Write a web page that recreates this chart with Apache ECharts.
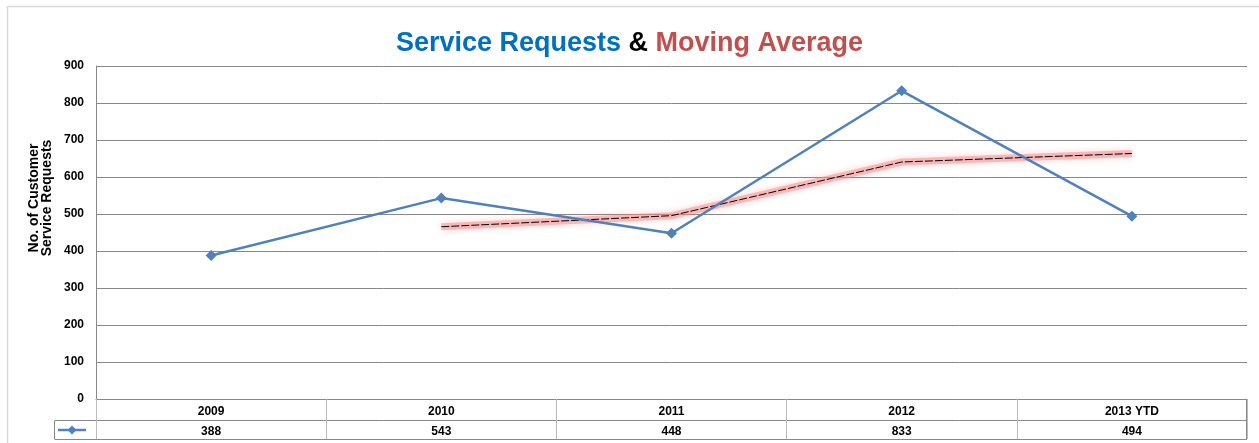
<!DOCTYPE html>
<html><head><meta charset="utf-8">
<script src="https://cdn.jsdelivr.net/npm/echarts@6/dist/echarts.min.js"></script>
<style>html,body{margin:0;padding:0;background:#fff}#c{width:1259px;height:443px}</style>
</head><body><div id="c"></div>
<script>
const categories = ['2009', '2010', '2011', '2012', '2013 YTD'];
const serviceRequests = [388, 543, 448, 833, 494];
const movingAverage = [null, 465.5, 495.5, 640.5, 663.5];
const yTicks = { min: 0, max: 900, interval: 100 };
const yAxisTitle = 'No. of Customer\nService Requests';

const G = { left: 96, right: 12, top: 66, bottom: 44 };
const W = 1259, H = 443;
const chart = echarts.init(document.getElementById('c'));
const font = 'Liberation Sans, Arial, sans-serif';

chart.setOption({
  animation: false,
  title: {
    text: '{a|Service Requests }{b|&}{c| Moving Average}',
    left: 'center', top: 25,
    textStyle: {
      rich: {
        a: { color: '#0070C0', fontSize: 27, fontWeight: 'bold', fontFamily: font },
        b: { color: '#000', fontSize: 27, fontWeight: 'bold', fontFamily: font },
        c: { color: '#C0504D', fontSize: 27, fontWeight: 'bold', fontFamily: font }
      }
    }
  },
  grid: { left: G.left, right: G.right, top: G.top, bottom: G.bottom },
  xAxis: {
    type: 'category', data: categories, boundaryGap: true,
    axisLine: { lineStyle: { color: '#888', width: 1 } },
    axisTick: { show: true, length: 40, lineStyle: { color: '#bbb' } },
    axisLabel: {
      margin: 3, interval: 0,
      formatter: (v, i) => '{h|' + v + '}\n{v|' + serviceRequests[i] + '}',
      rich: {
        h: { fontSize: 12, fontWeight: 'bold', color: '#000', fontFamily: font, lineHeight: 20, height: 20 },
        v: { fontSize: 12, fontWeight: 'bold', color: '#000', fontFamily: font, lineHeight: 20, height: 20 }
      }
    }
  },
  yAxis: {
    type: 'value', min: yTicks.min, max: yTicks.max, interval: yTicks.interval,
    axisLine: { show: true, lineStyle: { color: '#888' } },
    axisTick: { show: false },
    axisLabel: { fontSize: 12, fontWeight: 'bold', color: '#000', fontFamily: font, margin: 12 },
    splitLine: { lineStyle: { color: '#888', width: 1 } }
  },
  series: [
    {
      name: 'Moving Average glow', type: 'line', data: movingAverage, symbol: 'none', z: 2,
      lineStyle: { color: 'rgba(245,140,140,0.5)', width: 7, shadowColor: 'rgba(255,90,90,0.55)', shadowBlur: 6 },
      silent: true
    },
    {
      name: 'Moving Average', type: 'line', data: movingAverage, symbol: 'none', z: 3,
      lineStyle: { color: '#000', width: 1, type: [8, 2] }
    },
    {
      name: 'Service Requests', type: 'line', data: serviceRequests, z: 4,
      symbol: 'diamond', symbolSize: 11,
      lineStyle: { color: '#4F81BD', width: 2.5 },
      itemStyle: { color: '#4F81BD' }
    }
  ],
  graphic: [
    { type: 'rect', silent: true, shape: { x: 7.5, y: 6.5, width: 1400, height: 600 }, style: { fill: 'none', stroke: '#d9d9d9', lineWidth: 1.5 } },
    { type: 'text', x: 41, y: 198, rotation: Math.PI / 2,
      style: { text: yAxisTitle, fontSize: 14, fontWeight: 'bold', fontFamily: font, fill: '#000', align: 'center', verticalAlign: 'middle', lineHeight: 13 } },
    { type: 'line', shape: { x1: G.left, y1: 420.5, x2: W - G.right, y2: 420.5 }, style: { stroke: '#888', lineWidth: 1 } },
    { type: 'line', shape: { x1: 55, y1: 439.5, x2: W - G.right, y2: 439.5 }, style: { stroke: '#888', lineWidth: 1 } },
    { type: 'line', shape: { x1: 55, y1: 420.5, x2: G.left, y2: 420.5 }, style: { stroke: '#888', lineWidth: 1 } },
    { type: 'line', shape: { x1: 54.5, y1: 420.5, x2: 54.5, y2: 439.5 }, style: { stroke: '#888', lineWidth: 1 } },
    { type: 'line', shape: { x1: 96.5, y1: 399, x2: 96.5, y2: 439.5 }, style: { stroke: '#888', lineWidth: 1 } },
    { type: 'line', shape: { x1: 1246.5, y1: 399, x2: 1246.5, y2: 439.5 }, style: { stroke: '#888', lineWidth: 1 } },
    { type: 'line', shape: { x1: 58, y1: 430, x2: 86, y2: 430 }, style: { stroke: '#4F81BD', lineWidth: 2.5 } },
    { type: 'polygon', shape: { points: [[72, 425.5], [76.5, 430], [72, 434.5], [67.5, 430]] }, style: { fill: '#4F81BD' } }
  ]
});
</script></body></html>
